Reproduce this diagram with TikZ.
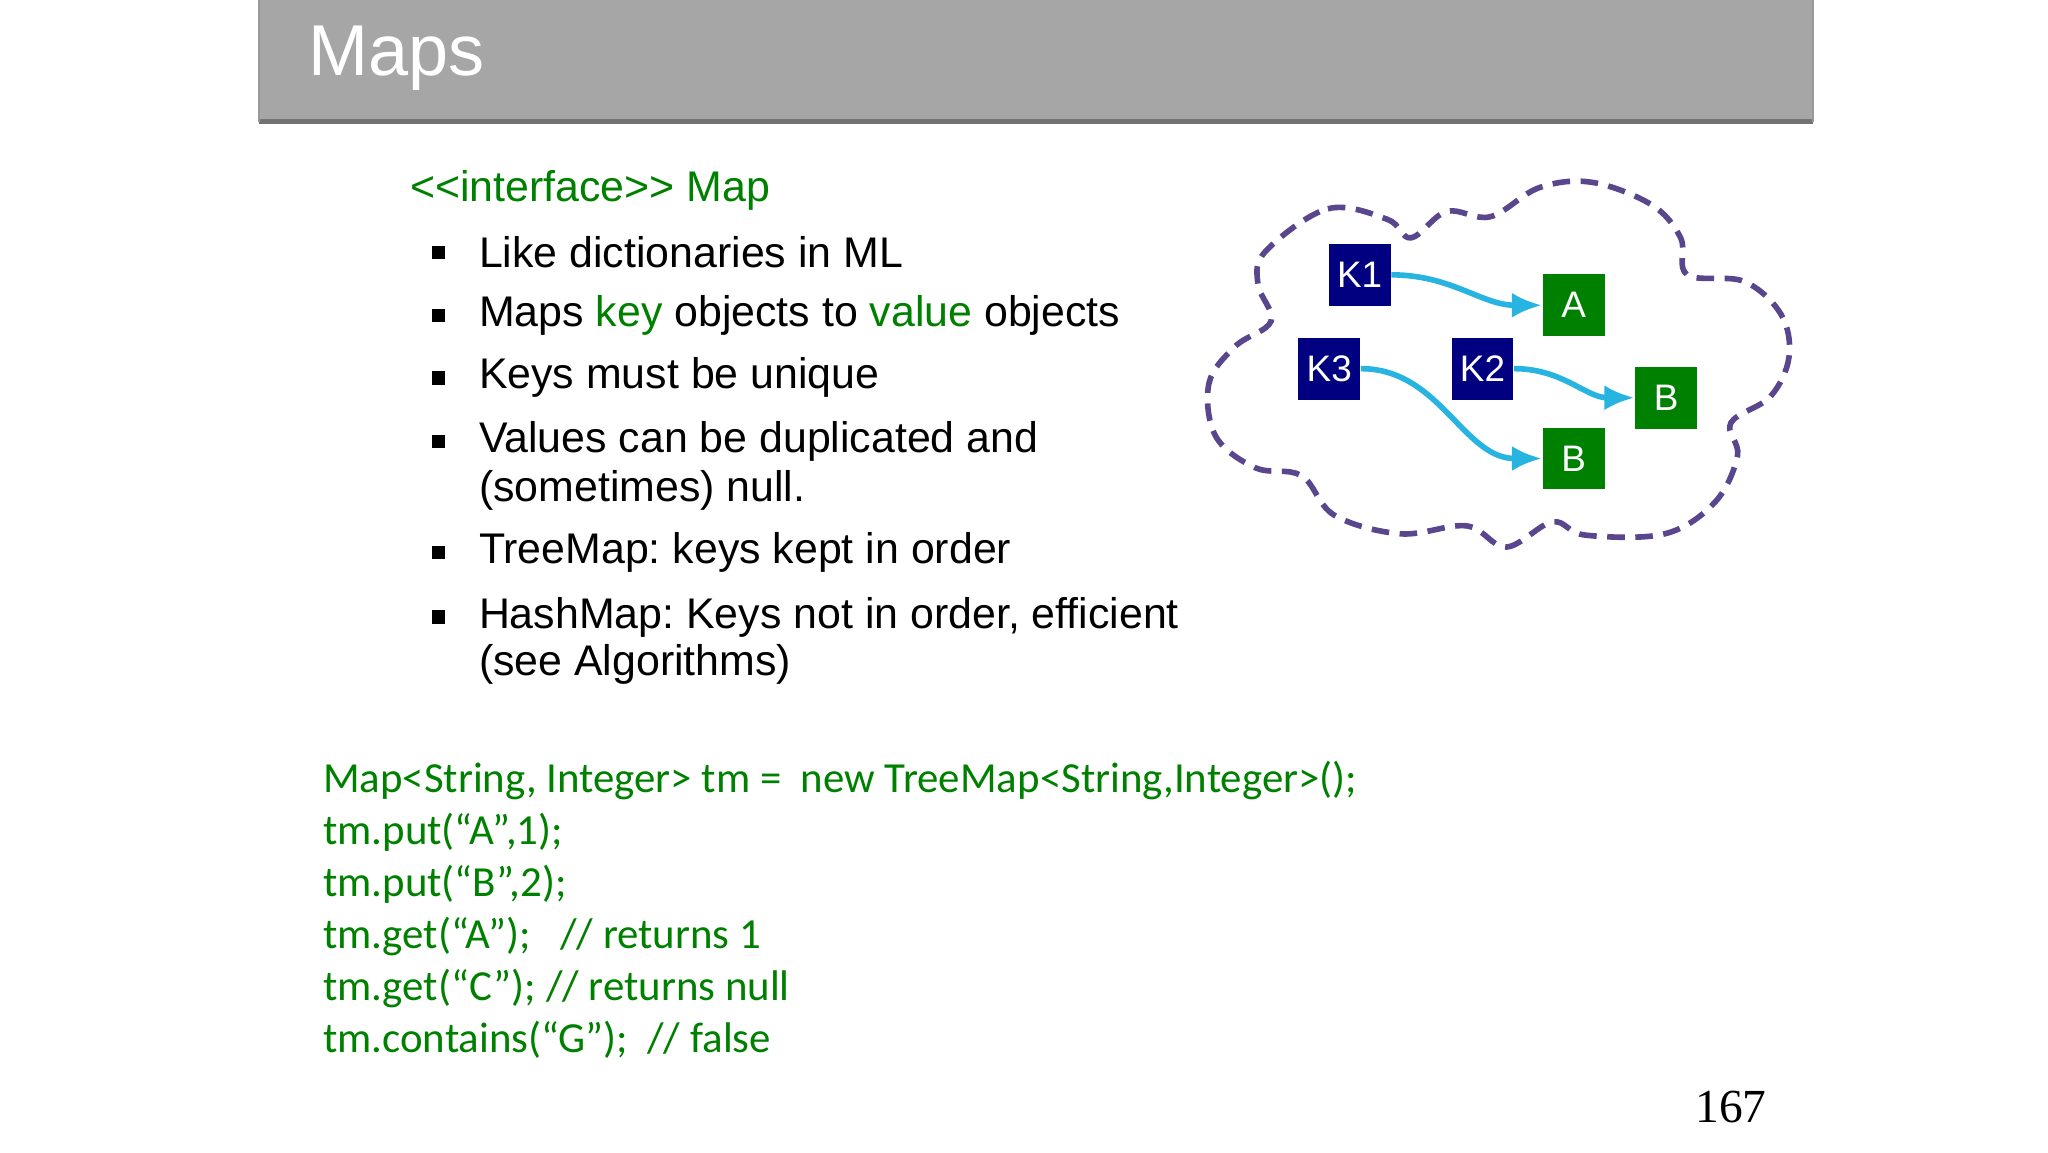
\documentclass[tikz,border=0pt]{standalone}
\usepackage{fontspec}
\setmainfont{Liberation Sans}
\newfontfamily\codefont{Carlito}
\newfontfamily\numfont{Liberation Serif}
\usetikzlibrary{arrows.meta, positioning}
\frenchspacing
\definecolor{codegreen}{RGB}{0,128,0}
\definecolor{keyblue}{RGB}{0,0,128}
\definecolor{valgreen}{RGB}{0,128,0}
\definecolor{linkcyan}{RGB}{40,180,225}
\definecolor{cloudpurple}{RGB}{90,70,140}
\tikzstyle{keybox} = [rectangle, fill=keyblue, text=white,
  minimum width=0.62cm, minimum height=0.62cm, inner sep=0pt, font=\fontsize{10.5pt}{12pt}\selectfont]
\tikzstyle{valbox} = [keybox, fill=valgreen]
\tikzstyle{link} = [draw=linkcyan, line width=1.6pt, -{Latex[length=3mm,width=2.5mm]}]
\tikzstyle{bulletline} = [anchor=west, inner sep=0pt, font=\fontsize{12.2pt}{14pt}\selectfont]
\tikzstyle{codeline} = [anchor=west, inner sep=0pt, text=codegreen, font=\codefont\fontsize{12.2pt}{14pt}\selectfont]

\begin{document}
\begin{tikzpicture}[x=0.013213cm, y=-0.013213cm]
    \useasboundingbox (0,0) rectangle (1550,872);
    % title bar
    \fill [gray!70] (196,0) rectangle (1372,92);
    \draw [gray!90!black, line width=1.2pt] (196,92) -- (1372,92);
    \draw [gray!80, line width=0.6pt] (196,0) -- (196,92) (1372,0) -- (1372,92);
    \node [anchor=west, text=white, font=\fontsize{20.5pt}{24pt}\selectfont] (title) at (224,44) {Maps};

    % bullet text
    \node [bulletline, text=codegreen] (iface) at (310,144) {<{}<interface>{}> Map};
    \foreach \y/\txt in {191/{Like dictionaries in ML},
                         239/{Maps \textcolor{codegreen}{key} objects to \textcolor{codegreen}{value} objects},
                         286/{Keys must be unique},
                         334/{Values can be duplicated and},
                         418/{TreeMap: keys kept in order},
                         467/{HashMap: Keys not in order, efficient}}
    {
      \fill (327,\y-5) rectangle (337,\y+5);
      \node [bulletline] at (362,\y) {\txt};
    }
    \node [bulletline] (null) at (362,371) {(sometimes) null.};
    \node [bulletline] (algo) at (362,503) {(see Algorithms)};

    % code
    \node [codeline] (c1) at (244,591) {Map<String, Integer> tm = \ new TreeMap<String,Integer>();};
    \node [codeline] (c2) at (244,630) {tm.put(“A”,1);};
    \node [codeline] (c3) at (244,669) {tm.put(“B”,2);};
    \node [codeline] (c4) at (244,709) {tm.get(“A”); \ \ // returns 1};
    \node [codeline] (c5) at (244,748) {tm.get(“C”); // returns null};
    \node [codeline] (c6) at (244,787) {tm.contains(“G”); \ // false};

    \node [font=\numfont\fontsize{13.5pt}{16pt}\selectfont] (page) at (1310,838) {167};

    % cloud
    \draw [cloudpurple, line width=1.6pt, dash pattern=on 5pt off 3pt]
      plot [smooth cycle, tension=0.6] coordinates {
        (958,190) (1005,158) (1050,166) (1068,180) (1095,160) (1128,164)
        (1165,142) (1205,138) (1250,155) (1272,180) (1277,208) (1320,213)
        (1348,238) (1354,270) (1340,300) (1310,320) (1315,345) (1298,380)
        (1260,404) (1200,405) (1175,395) (1140,414) (1110,398) (1060,404)
        (1010,390) (985,360) (950,354) (920,330) (915,290) (935,262)
        (962,243) (952,215)};

    % map entries
    \node [keybox] (k1) at (1029,208) {K1};
    \node [keybox] (k3) at (1006,279) {K3};
    \node [keybox] (k2) at (1122,279) {K2};
    \node [valbox] (va) at (1191,231) {A};
    \node [valbox] (vb1) at (1261,301) {B};
    \node [valbox] (vb2) at (1191,347) {B};

    \draw [link] (k1.east) to [out=0, in=180] (va.west);
    \draw [link] (k3.east) to [out=0, in=180] (vb2.west);
    \draw [link] (k2.east) to [out=0, in=180] (vb1.west);
\end{tikzpicture}
\end{document}
